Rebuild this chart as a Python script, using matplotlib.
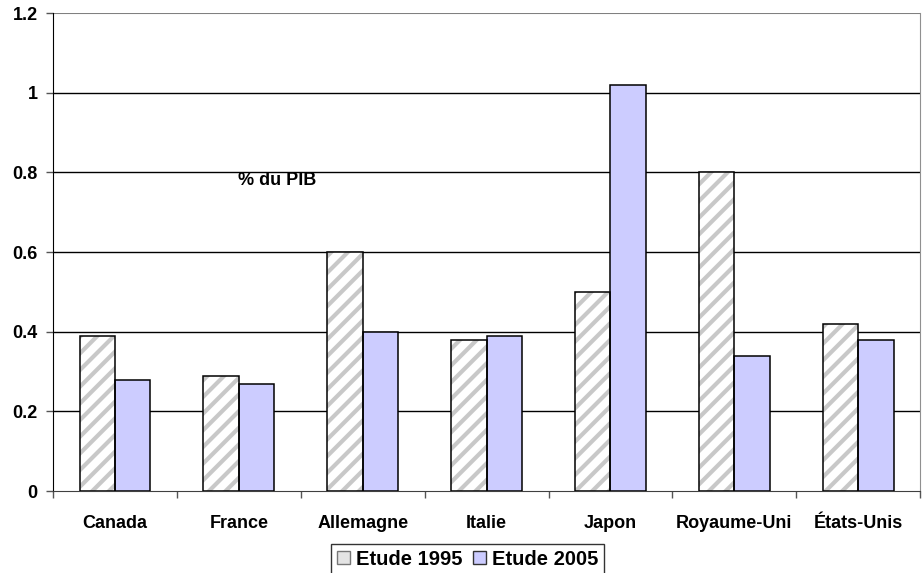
import numpy as np
import matplotlib
matplotlib.use("Agg")
import matplotlib.pyplot as plt
from matplotlib.patches import Patch

plt.rcParams['font.family'] = ['Liberation Sans', 'DejaVu Sans']
plt.rcParams['font.weight'] = 'bold'
plt.rcParams['hatch.linewidth'] = 3.0

pays = ['Canada', 'France', 'Allemagne', 'Italie', 'Japon', 'Royaume-Uni', 'États-Unis']
etude_1995 = [0.39, 0.29, 0.60, 0.38, 0.50, 0.80, 0.42]
etude_2005 = [0.28, 0.27, 0.40, 0.39, 1.02, 0.34, 0.38]
y_ticks = [0, 0.2, 0.4, 0.6, 0.8, 1.0, 1.2]
y_labels = ['0', '0.2', '0.4', '0.6', '0.8', '1', '1.2']

hatch_gris = '#c8c8c8'
bleu = '#ccccff'

fig = plt.figure(figsize=(9.22, 5.73), dpi=100)
ax = fig.add_axes([0.0575, 0.143, 0.9405, 0.834])

x = np.arange(len(pays))
w = 1 / 3.5

# hachures grises, puis contour noir par-dessus
ax.bar(x - w / 2, etude_1995, w, color='white', edgecolor=hatch_gris,
       linewidth=0, hatch='//', zorder=3)
ax.bar(x - w / 2, etude_1995, w, fill=False, edgecolor='black',
       linewidth=1.1, zorder=4)
ax.bar(x + w / 2, etude_2005, w, color=bleu, edgecolor='black',
       linewidth=1.1, zorder=3)

ax.set_xlim(-0.5, len(pays) - 0.5)
ax.set_ylim(0, 1.2)
ax.set_yticks(y_ticks)
ax.set_yticklabels(y_labels, fontsize=13, fontweight='bold')
for t in y_ticks[1:-1]:
    ax.axhline(t, color='black', lw=1.0, zorder=1)
ax.axhline(1.2, color='#808080', lw=1.5, zorder=1)

ax.set_xticks(x)
ax.set_xticklabels(pays, fontsize=13, fontweight='bold')
ax.tick_params(axis='x', which='major', length=0, pad=17)
ax.set_xticks(np.arange(len(pays) + 1) - 0.5, minor=True)
ax.tick_params(axis='x', which='minor', length=5, color='#555555', width=1)
ax.tick_params(axis='y', length=5, width=1, color='#555555', pad=6)

ax.spines['top'].set_visible(False)
ax.spines['right'].set_color('#909090')
ax.spines['bottom'].set_color('#404040')
ax.spines['left'].set_color('black')

ax.text(0.258, 0.649, '% du PIB', transform=ax.transAxes, ha='center',
        va='center', fontsize=13, fontweight='bold')

handles = [Patch(facecolor='#e4e4e4', edgecolor='#777777', label='Etude 1995'),
           Patch(facecolor=bleu, edgecolor='#333333', label='Etude 2005')]
leg = fig.legend(handles=handles, loc='upper center', bbox_to_anchor=(0.507, 0.051),
                 ncol=2, frameon=True, fancybox=False, edgecolor='black',
                 fontsize=14.5, handlelength=0.65,
                 handleheight=0.65, handletextpad=0.3, columnspacing=0.5,
                 borderpad=0.3, borderaxespad=0)
for t in leg.get_texts():
    t.set_fontweight('bold')
leg.get_frame().set_linewidth(1.0)

fig.savefig('out.png', dpi=100)
